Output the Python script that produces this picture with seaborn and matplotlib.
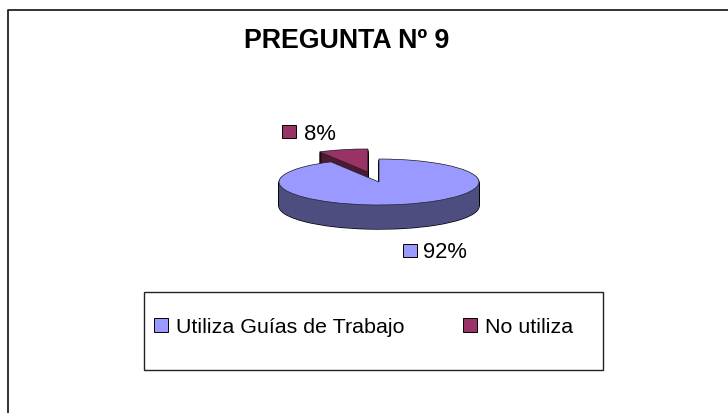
import matplotlib
matplotlib.use("Agg")
import matplotlib.pyplot as plt
from matplotlib.lines import Line2D
from matplotlib.patches import Rectangle, Patch
import seaborn as sns

categories = ["Utiliza Guías de Trabajo", "No utiliza"]
values = [92, 8]
pct_labels = ["92%", "8%"]
title = "PREGUNTA Nº 9"

W, H = 728, 414
CX, CY, RX, RY, DEPTH = 379, 183, 100, 23, 24
top_colors = sns.color_palette(["#9999FF", "#993366"])
side_colors = sns.color_palette(["#4D4D80", "#4D1A33"])

sns.set_theme(style="white")
plt.rcParams["font.family"] = ["Liberation Sans", "DejaVu Sans"]

fig = plt.figure(figsize=(W / 100, H / 100), dpi=100, facecolor="white")
ax = fig.add_axes([0, 0, 1, 1])


def px(x, y):
    return x / W, 1 - y / H


explode = [0, 0.45]
n = DEPTH
# silhouette outline pass, then fill pass
for lw, edge in [(1.0, "black"), (0, "none")]:
    for i in range(n, 0, -1):
        ax.pie(values, colors=side_colors, startangle=90, counterclock=False,
               explode=explode, center=(0, -i / RY), radius=1,
               wedgeprops=dict(linewidth=lw, edgecolor=edge))
ax.pie(values, colors=top_colors, startangle=90, counterclock=False,
       explode=explode, center=(0, 0), radius=1,
       wedgeprops=dict(linewidth=0.5, edgecolor="#222222"))
ax.set_aspect("auto")
ax.set_xlim(-CX / RX, (W - CX) / RX)
ax.set_ylim((CY - H) / RY, CY / RY)
ax.axis("off")

# outer frame: only the top and left edges fall inside the picture
fig.add_artist(Line2D([8 / W, 8 / W, 1], [0, 1 - 10.5 / H, 1 - 10.5 / H], transform=fig.transFigure,
                      color="#222222", lw=1.3))
# legend frame
fig.add_artist(Rectangle(px(144, 371), (603 - 144) / W, (371 - 293) / H, transform=fig.transFigure,
                         fill=False, ec="#222222", lw=1.0))

fig.text(*px(346.5, 41), title, fontsize=19.3, fontweight="bold", color="black", ha="center", va="center")

# data labels
for (sx, sy, tx, lab, c) in [(403, 245, 423, pct_labels[0], top_colors[0]),
                             (282, 126, 304, pct_labels[1], top_colors[1])]:
    fig.add_artist(Rectangle(px(sx, sy + 13), 14 / W, 13 / H, transform=fig.transFigure,
                             fc=c, ec="black", lw=0.7))
    fig.text(*px(tx, sy + 8), lab, fontsize=15.8, color="black", ha="left", va="center")

handles = [Patch(fc=c, ec="black", lw=0.7) for c in top_colors]
leg = fig.legend(handles, categories, ncol=2, frameon=False, fontsize=15.4,
                 loc="center left", bbox_to_anchor=px(154, 328), borderaxespad=0, borderpad=0,
                 handlelength=0.65, handleheight=0.62, handletextpad=0.37, columnspacing=2.75,
                 labelcolor="black")

fig.savefig("out.png", dpi=100, facecolor="white")
